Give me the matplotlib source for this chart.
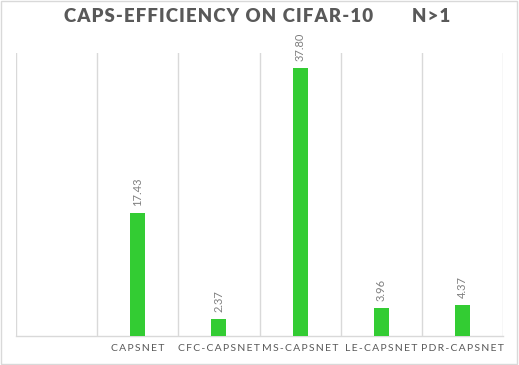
import numpy as np
import matplotlib.pyplot as plt
from matplotlib.patches import Rectangle

plt.rcParams['font.family'] = ['Lato', 'DejaVu Sans']

categories = ["", "CAPSNET", "CFC-CAPSNET", "MS-CAPSNET", "LE-CAPSNET", "PDR-CAPSNET"]
values = [np.nan, 17.43, 2.37, 37.80, 3.96, 4.37]


def spaced(s, sep='\u200a'):
    # fake letter spacing like the Excel style
    return sep.join(s)


fig = plt.figure(figsize=(5.19, 3.65), dpi=100)
ax = fig.add_axes([0.031, 0.0795, 0.938, 0.776])

x = np.arange(len(categories))
bars = ax.bar(x, values, width=0.185, color='#33cc33', zorder=3)

for xi, v in zip(x, values):
    if np.isnan(v):
        continue
    ax.annotate(f"{v:.2f}", (xi, v), xytext=(0, 5), textcoords='offset points',
                rotation=90, ha='center', va='bottom', fontsize=8, color='#7f7f7f')

ax.set_xlim(-0.5, len(categories) - 0.5)
ax.set_ylim(0, 40)
ax.set_yticks([])
ax.set_xticks(x)
ax.set_xticklabels([spaced(c, '\u2009') for c in categories], fontsize=7.5, color='#595959')
ax.tick_params(axis='x', length=0, pad=6)
ax.set_xticks(np.arange(-0.5, len(categories)), minor=True)
ax.tick_params(axis='x', which='minor', length=0)
ax.grid(axis='x', which='minor', color='#d9d9d9', linewidth=1, zorder=0)

for side in ['left', 'right', 'top']:
    ax.spines[side].set_visible(False)
ax.spines['bottom'].set_color('#d9d9d9')
ax.spines['bottom'].set_linewidth(1)

fig.text(0.421, 0.955, spaced("CAPS-EFFICIENCY ON CIFAR-10"), fontsize=13.4,
         fontweight='heavy', color='#595959', ha='center', va='center')
fig.text(0.831, 0.955, spaced("N>1"), fontsize=13.4,
         fontweight='heavy', color='#595959', ha='center', va='center')

fig.patches.append(Rectangle((0.001, 0.003), 0.996, 0.994, transform=fig.transFigure,
                             fill=False, edgecolor='#d9d9d9', linewidth=1))

fig.savefig('out.png', dpi=100, facecolor='white')
